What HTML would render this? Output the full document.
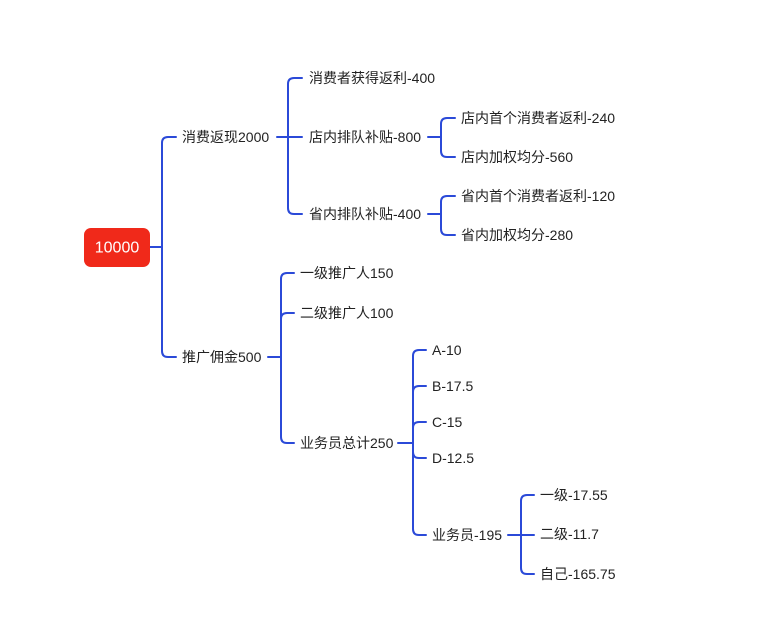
<!DOCTYPE html>
<html><head><meta charset="utf-8"><style>
html,body{margin:0;padding:0;background:#fff;}
svg{display:block;}
text{font-family:"Liberation Sans","Noto Sans CJK SC",sans-serif;font-size:14px;fill:#222;dominant-baseline:central;}
</style></head><body>
<svg width="763" height="621" viewBox="0 0 763 621" xmlns="http://www.w3.org/2000/svg">
<g fill="none" stroke="#2b4ad8" stroke-width="2" stroke-linecap="round">
<path d="M150,247 H162 M162,247 V143 Q162,137 168,137 H176 M162,247 V351 Q162,357 168,357 H176"/>
<path d="M277,137 H302 M288,137 V84 Q288,78 294,78 H302 M288,137 V208 Q288,214 294,214 H302"/>
<path d="M428,137 H441 M441,137 V124 Q441,118 447,118 H455 M441,137 V151 Q441,157 447,157 H455"/>
<path d="M428,214 H441 M441,214 V202 Q441,196 447,196 H455 M441,214 V229 Q441,235 447,235 H455"/>
<path d="M268,357 H281 M281,357 V279 Q281,273 287,273 H294 M281,357 V319 Q281,313 287,313 H294 M281,357 V437 Q281,443 287,443 H294"/>
<path d="M398,443 H413 M413,443 V356 Q413,350 419,350 H426 M413,443 V392 Q413,386 419,386 H426 M413,443 V428 Q413,422 419,422 H426 M413,443 V452 Q413,458 419,458 H426 M413,443 V529 Q413,535 419,535 H426"/>
<path d="M508,535 H534 M521,535 V501 Q521,495 527,495 H534 M521,535 V568 Q521,574 527,574 H534"/>
</g>
<rect x="84" y="228" width="66" height="39" rx="7" fill="#f0291a"/>
<text x="117" y="248" text-anchor="middle" style="fill:#fff;font-size:16px">10000</text>
<text x="182" y="137">消费返现2000</text>
<text x="182" y="357">推广佣金500</text>
<text x="309" y="78">消费者获得返利-400</text>
<text x="309" y="137">店内排队补贴-800</text>
<text x="309" y="214">省内排队补贴-400</text>
<text x="461" y="118">店内首个消费者返利-240</text>
<text x="461" y="157">店内加权均分-560</text>
<text x="461" y="196">省内首个消费者返利-120</text>
<text x="461" y="235">省内加权均分-280</text>
<text x="300" y="273">一级推广人150</text>
<text x="300" y="313">二级推广人100</text>
<text x="300" y="443">业务员总计250</text>
<text x="432" y="350">A-10</text>
<text x="432" y="386">B-17.5</text>
<text x="432" y="422">C-15</text>
<text x="432" y="458">D-12.5</text>
<text x="432" y="535">业务员-195</text>
<text x="540" y="495">一级-17.55</text>
<text x="540" y="534">二级-11.7</text>
<text x="540" y="574">自己-165.75</text>
</svg>
</body></html>
